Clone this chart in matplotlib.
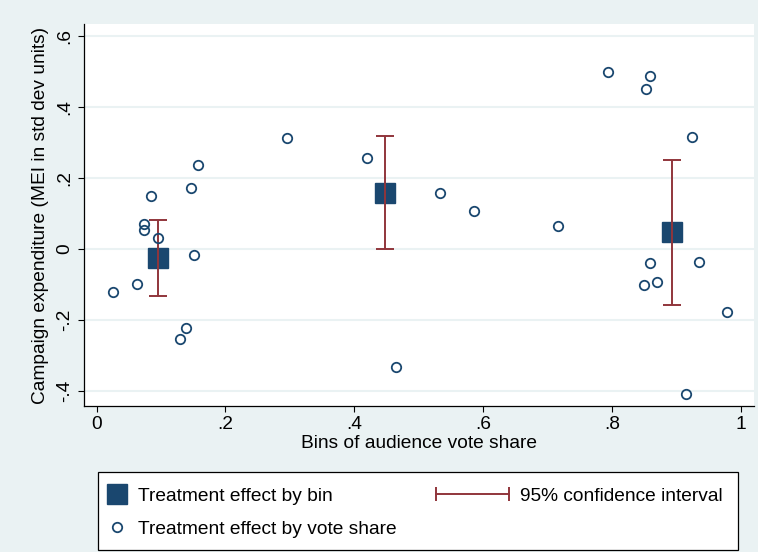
import matplotlib.pyplot as plt
from matplotlib.lines import Line2D
from matplotlib.patches import Rectangle

plt.rcParams['font.family'] = ['Liberation Sans', 'DejaVu Sans']

# treatment effect by vote share (individual points)
share_x = [0.157, 0.146, 0.084, 0.073, 0.074, 0.095, 0.152, 0.063, 0.025, 0.139, 0.129,
           0.296, 0.419, 0.533, 0.586, 0.716, 0.465,
           0.794, 0.859, 0.853, 0.924, 0.859, 0.935, 0.850, 0.869, 0.979, 0.915]
share_y = [0.237, 0.173, 0.150, 0.070, 0.053, 0.032, -0.018, -0.097, -0.120, -0.223, -0.253,
           0.313, 0.257, 0.158, 0.108, 0.066, -0.332,
           0.500, 0.488, 0.451, 0.316, -0.040, -0.037, -0.101, -0.094, -0.177, -0.408]

# treatment effect by bin, with 95% CI
bin_x = [0.095, 0.447, 0.893]
bin_y = [-0.025, 0.159, 0.047]
ci_lo = [-0.132, 0.001, -0.158]
ci_hi = [0.082, 0.319, 0.252]

xticks = [0, 0.2, 0.4, 0.6, 0.8, 1]
xlabels = ['0', '.2', '.4', '.6', '.8', '1']
yticks = [-0.4, -0.2, 0, 0.2, 0.4, 0.6]
ylabels = ['-.4', '-.2', '0', '.2', '.4', '.6']

bg = '#EAF2F3'
navy = '#1A476F'
maroon = '#90353B'
fs = 13.8

fig = plt.figure(figsize=(7.58, 5.52), dpi=100, facecolor=bg)
ax = fig.add_axes([83.5/758, 1-406/552, (754-83.5)/758, (406-24)/552])
ax.set_facecolor('white')

ax.plot(bin_x, bin_y, 's', color=navy, markersize=14.4, zorder=3)
err_lo = [b - l for b, l in zip(bin_y, ci_lo)]
err_hi = [h - b for b, h in zip(bin_y, ci_hi)]
ax.errorbar(bin_x, bin_y, yerr=[err_lo, err_hi], fmt='none', ecolor=maroon,
            elinewidth=1.4, capsize=6.8, capthick=1.4, zorder=4)
ax.plot(share_x, share_y, 'o', markerfacecolor='none', markeredgecolor=navy,
        markersize=6.8, markeredgewidth=1.3, zorder=5)

ax.set_xlim(-0.0202, 1.0202)
ax.set_ylim(-0.442, 0.634)
ax.set_xticks(xticks, xlabels)
ax.set_yticks(yticks, ylabels)
for lab in ax.get_yticklabels():
    lab.set_rotation(90)
    lab.set_va('center')
ax.tick_params(direction='out', length=4.5, width=0.8, labelsize=fs, pad=3)
ax.grid(axis='y', color=bg, linewidth=1.5)
ax.set_axisbelow(True)
for s in ['top', 'right']:
    ax.spines[s].set_visible(False)
ax.spines['left'].set_linewidth(0.9)
ax.spines['bottom'].set_linewidth(0.9)

ax.set_xlabel('Bins of audience vote share', fontsize=fs, labelpad=1)
ax.set_ylabel('Campaign expenditure (MEI in std dev units)', fontsize=fs, labelpad=5)

# legend box
fig.patches.append(Rectangle((98/758, 2/552), (738-98)/758, (550-472)/552,
                             transform=fig.transFigure, facecolor='white',
                             edgecolor='black', linewidth=0.9))
sq = Line2D([], [], linestyle='none', marker='s', color=navy, markersize=14.4)
circ = Line2D([], [], linestyle='none', marker='o', markerfacecolor='none',
              markeredgecolor=navy, markersize=6.8, markeredgewidth=1.3)
ci = Line2D([], [], color=maroon, marker='|', markersize=9.5, linewidth=1.4,
            markeredgewidth=1.4)
leg1 = fig.legend(handles=[sq, circ],
                  labels=['Treatment effect by bin', 'Treatment effect by vote share'],
                  loc='upper left', bbox_to_anchor=(90/758, 1-472/552), frameon=False,
                  fontsize=fs, handlelength=1.2, handletextpad=0.5, labelspacing=0.82,
                  borderpad=0.3)
leg2 = fig.legend(handles=[ci], labels=['95% confidence interval'], numpoints=2,
                  loc='upper left', bbox_to_anchor=(415/758, 1-472/552), frameon=False,
                  fontsize=fs, handlelength=4.4, handletextpad=0.29, borderpad=0.3)

fig.savefig('out.png', dpi=100, facecolor=bg)
